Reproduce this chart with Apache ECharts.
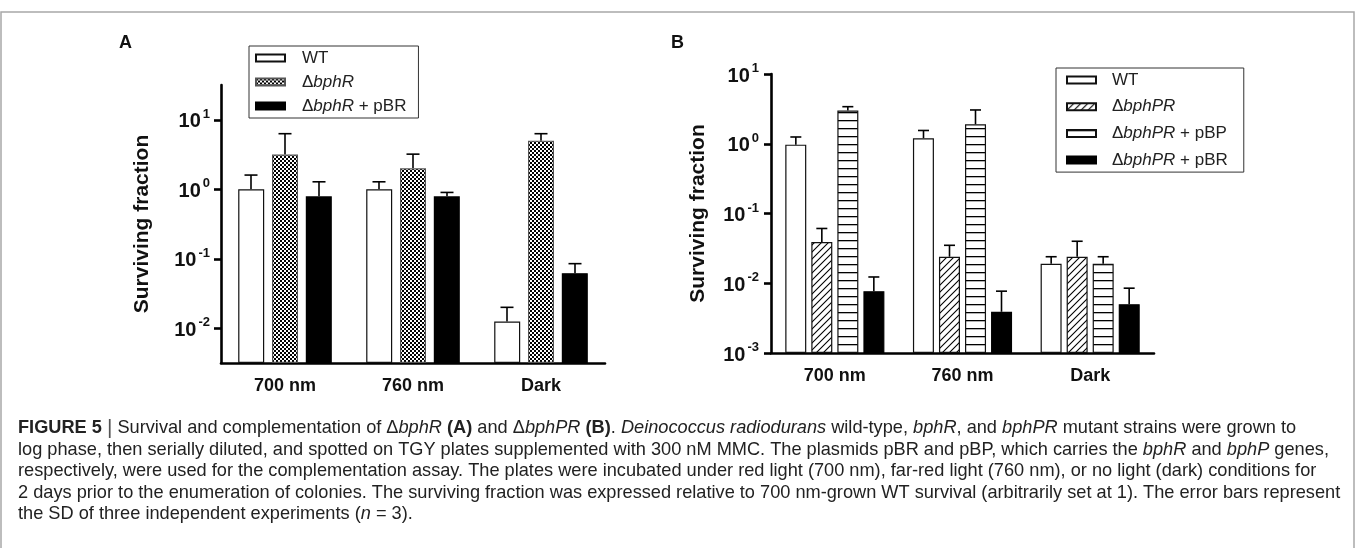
<!DOCTYPE html>
<html>
<head>
<meta charset="utf-8">
<script src="https://cdn.jsdelivr.net/npm/echarts@6/dist/echarts.min.js"></script>
<style>
  html, body { margin: 0; padding: 0; background: #fff; }
  #chart-container { width: 1356px; height: 548px; }
</style>
</head>
<body>
<div id="chart-container"></div>
<script>
// data (surviving fraction, bar = mean, err = mean + SD)
var categories = ['700 nm', '760 nm', 'Dark'];

// panel A
var namesA = ['WT', 'ΔbphR', 'ΔbphR + pBR'];
var aWT = [1.0, 1.0, 0.0125];
var aWTErr = [1.6, 1.28, 0.02];
var aR = [3.15, 2.0, 5.0];
var aRErr = [6.3, 3.2, 6.3];
var aRpBR = [0.79, 0.79, 0.062];
var aRpBRErr = [1.28, 0.9, 0.085];

// panel B
var namesB = ['WT', 'ΔbphPR', 'ΔbphPR + pBP', 'ΔbphPR + pBR'];
var bWT = [0.97, 1.2, 0.019];
var bWTErr = [1.25, 1.55, 0.024];
var bPR = [0.039, 0.024, 0.024];
var bPRErr = [0.061, 0.035, 0.04];
var bPRpBP = [3.0, 1.9, 0.019];
var bPRpBPErr = [3.4, 3.05, 0.024];
var bPRpBR = [0.0077, 0.0039, 0.005];
var bPRpBRErr = [0.0123, 0.0077, 0.0085];

var ticksA = [0.01, 0.1, 1, 10];
var ticksB = [0.001, 0.01, 0.1, 1, 10];

var FONT = 'Liberation Sans, Arial, sans-serif';

// fill patterns
function makePattern(w, h, draw) {
    var c = document.createElement('canvas');
    c.width = w; c.height = h;
    var ctx = c.getContext('2d');
    ctx.fillStyle = '#fff';
    ctx.fillRect(0, 0, w, h);
    draw(ctx);
    return { image: c, repeat: 'repeat' };
}
var checker = makePattern(4, 4, function (ctx) {
    ctx.fillStyle = '#000';
    ctx.fillRect(0, 0, 2, 2);
    ctx.fillRect(2, 2, 2, 2);
});
var hatch = makePattern(7, 7, function (ctx) {
    ctx.strokeStyle = '#000';
    ctx.lineWidth = 1.1;
    ctx.beginPath();
    ctx.moveTo(-1, 8); ctx.lineTo(8, -1);
    ctx.moveTo(-1, 1); ctx.lineTo(1, -1);
    ctx.moveTo(6, 8); ctx.lineTo(8, 6);
    ctx.stroke();
});
var hlines = makePattern(4, 8, function (ctx) {
    ctx.fillStyle = '#000';
    ctx.fillRect(0, 0, 4, 1.3);
});

function pairs(v, e) {
    return categories.map(function (c, i) { return [i, v[i], e[i]]; });
}

function errRender(offset, cap) {
    return function (params, api) {
        var c = api.value(0);
        var base = api.coord([c, api.value(1)]);
        var top = api.coord([c, api.value(2)]);
        var x = base[0] + offset;
        var st = { stroke: '#000', lineWidth: 1.6 };
        return {
            type: 'group',
            children: [
                { type: 'line', shape: { x1: x, y1: base[1], x2: x, y2: top[1] }, style: st },
                { type: 'line', shape: { x1: x - cap / 2, y1: top[1], x2: x + cap / 2, y2: top[1] }, style: st }
            ]
        };
    };
}

function barSeries(name, idx, data, fill, border, bw, gap) {
    return {
        type: 'bar',
        name: name,
        xAxisIndex: idx,
        yAxisIndex: idx,
        data: data,
        barWidth: bw,
        barGap: gap,
        itemStyle: { color: fill, borderColor: border, borderWidth: 1.2 },
        emphasis: { disabled: true },
        z: 3
    };
}

function errSeries(idx, v, e, offset, cap) {
    return {
        type: 'custom',
        name: 'err',
        xAxisIndex: idx,
        yAxisIndex: idx,
        dimensions: ['x', 'v', 'e'],
        encode: { x: 0, y: [1, 2] },
        data: pairs(v, e),
        renderItem: errRender(offset, cap),
        silent: true,
        z: 2
    };
}

function supLabel(v) {
    var n = Math.round(Math.log10(v));
    return '{b|10}{s|' + n + '}';
}
var supRich = {
    b: { fontSize: 20, fontWeight: 'bold', fontFamily: FONT, color: '#111', lineHeight: 24, verticalAlign: 'bottom' },
    s: { fontSize: 13, fontWeight: 'bold', fontFamily: FONT, color: '#111', lineHeight: 13, verticalAlign: 'top', padding: [0, 0, 0, 2] }
};

function yAxis(idx, min, max, ticks, gap, margin) {
    return {
        type: 'log',
        gridIndex: idx,
        logBase: 10,
        min: min,
        max: max,
        startValue: min,
        name: 'Surviving fraction',
        nameLocation: 'middle',
        nameGap: gap,
        nameTextStyle: { fontSize: 21, fontWeight: 'bold', fontFamily: FONT, color: '#111' },
        axisLine: { show: true, lineStyle: { color: '#000', width: 2.6 } },
        axisTick: { show: true, length: 7, customValues: ticks, lineStyle: { color: '#000', width: 2.6 } },
        axisLabel: { customValues: ticks, formatter: supLabel, rich: supRich, margin: margin },
        splitLine: { show: false },
        minorTick: { show: false }
    };
}

function xAxis(idx) {
    return {
        type: 'category',
        gridIndex: idx,
        data: categories,
        axisLine: { show: true, lineStyle: { color: '#000', width: 2.6 } },
        axisTick: { show: false },
        axisLabel: { fontSize: 18, fontWeight: 'bold', fontFamily: FONT, color: '#111', margin: 14 },
        splitLine: { show: false }
    };
}

function legendFmt(name) {
    return name.replace(/^Δ(bph[A-Z]+)/, '{d|Δ}{i|$1}');
}
var legendRich = {
    d: { fontSize: 17, fontFamily: FONT, color: '#222' },
    i: { fontSize: 17, fontFamily: FONT, color: '#222', fontStyle: 'italic' }
};

function legend(names, left, top, gap, textPad, pad) {
    return {
        data: names,
        orient: 'vertical',
        left: left,
        top: top,
        itemWidth: 29,
        itemHeight: 7,
        itemGap: gap,
        padding: pad,
        borderColor: '#333',
        borderWidth: 1,
        selectedMode: false,
        icon: 'rect',
        formatter: legendFmt,
        textStyle: { fontSize: 17, fontFamily: FONT, color: '#222', lineHeight: 20, padding: [0, 0, 0, textPad], rich: legendRich }
    };
}

// caption lines (rich text)
var captionLines = [
    '{b|FIGURE 5} {bar||} Survival and complementation of Δ{i|bphR} {b|(A)} and Δ{i|bphPR} {b|(B)}. {i|Deinococcus radiodurans} wild-type, {i|bphR}, and {i|bphPR} mutant strains were grown to',
    'log phase, then serially diluted, and spotted on TGY plates supplemented with 300 nM MMC. The plasmids pBR and pBP, which carries the {i|bphR} and {i|bphP} genes,',
    'respectively, were used for the complementation assay. The plates were incubated under red light (700 nm), far-red light (760 nm), or no light (dark) conditions for',
    '2 days prior to the enumeration of colonies. The surviving fraction was expressed relative to 700 nm-grown WT survival (arbitrarily set at 1). The error bars represent',
    'the SD of three independent experiments ({i|n} = 3).'
];
var CAPFONT = 'Liberation Sans, Arial, sans-serif';
var CAPSIZE = 18.2;
var capRich = {
    b: { fontSize: CAPSIZE, fontWeight: 'bold', fontFamily: CAPFONT, fill: '#222', lineHeight: 22 },
    i: { fontSize: CAPSIZE, fontStyle: 'italic', fontFamily: CAPFONT, fill: '#222', lineHeight: 22 },
    bar: { fontSize: 21, fontFamily: CAPFONT, fill: '#555', lineHeight: 22 }
};
var graphics = [
    {
        type: 'rect', silent: true, z: 0,
        shape: { x: 1, y: 12, width: 1353, height: 600 },
        style: { fill: 'none', stroke: '#a8a8a8', lineWidth: 1.5 }
    },
    { type: 'text', left: 119, top: 34, style: { text: 'A', fontSize: 18, fontWeight: 'bold', fontFamily: FONT, fill: '#111' } },
    { type: 'text', left: 671, top: 34, style: { text: 'B', fontSize: 18, fontWeight: 'bold', fontFamily: FONT, fill: '#111' } }
];
captionLines.forEach(function (t, i) {
    graphics.push({
        type: 'text', left: 18, top: 417 + i * 21.5, silent: true,
        style: { text: t, rich: capRich, fontSize: CAPSIZE, lineHeight: 22, fontFamily: CAPFONT, fill: '#222' }
    });
});

var dom = document.getElementById('chart-container');
var myChart = echarts.init(dom, null, { renderer: 'canvas' });

var option = {
    backgroundColor: '#fff',
    animation: false,
    graphic: graphics,
    legend: [
        legend(namesA, 249, 46, 4, 12, [2, 12, 2, 6]),
        legend(namesB, 1056, 68, 6.7, 11, [2, 16, 2, 10])
    ],
    grid: [
        { left: 221, top: 85, right: 751, bottom: 185 },
        { left: 771, top: 74, right: 202, bottom: 195 }
    ],
    xAxis: [xAxis(0), xAxis(1)],
    yAxis: [
        yAxis(0, Math.pow(10, -2.5), Math.pow(10, 1.5), ticksA, 68, 11),
        yAxis(1, 0.001, 10, ticksB, 62, 12)
    ],
    series: [
        barSeries(namesA[0], 0, aWT, '#fff', '#111', 26, '30%'),
        barSeries(namesA[1], 0, aR, checker, '#555', 26, '30%'),
        barSeries(namesA[2], 0, aRpBR, '#000', '#000', 26, '30%'),
        errSeries(0, aWT, aWTErr, -34, 13),
        errSeries(0, aR, aRErr, 0, 13),
        errSeries(0, aRpBR, aRpBRErr, 34, 13),

        barSeries(namesB[0], 1, bWT, '#fff', '#111', 21, '24%'),
        barSeries(namesB[1], 1, bPR, hatch, '#111', 21, '24%'),
        barSeries(namesB[2], 1, bPRpBP, hlines, '#111', 21, '24%'),
        barSeries(namesB[3], 1, bPRpBR, '#000', '#000', 21, '24%'),
        errSeries(1, bWT, bWTErr, -39, 11),
        errSeries(1, bPR, bPRErr, -13, 11),
        errSeries(1, bPRpBP, bPRpBPErr, 13, 11),
        errSeries(1, bPRpBR, bPRpBRErr, 39, 11)
    ]
};

myChart.setOption(option);
window.addEventListener('resize', myChart.resize);
</script>
</body>
</html>
